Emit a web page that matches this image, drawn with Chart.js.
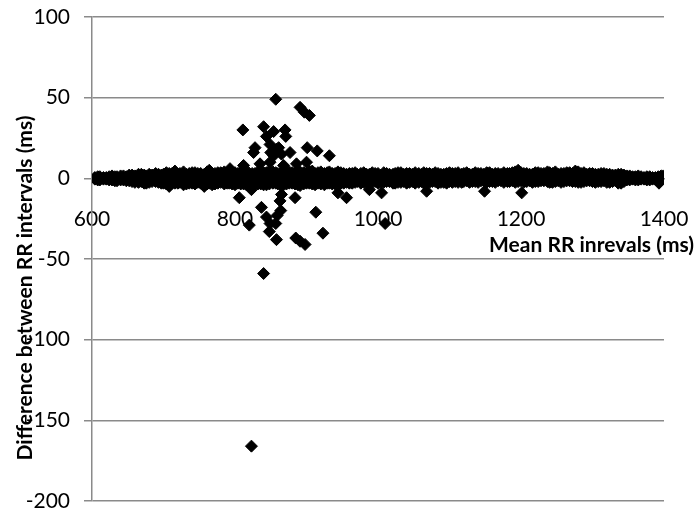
<!DOCTYPE html>
<html>
<head>
<meta charset="utf-8">
<script src="https://cdn.jsdelivr.net/npm/chart.js@4.4.0/dist/chart.umd.min.js"></script>
<style>
  html, body { margin: 0; padding: 0; background: #fff; }
  #wrap { width: 699px; height: 514px; }
</style>
</head>
<body>
<div id="wrap"><canvas id="rr-chart"></canvas></div>
<script>
// axis text
const xTitle = "Mean RR inrevals (ms)";
const yTitle = "Difference between RR intervals (ms)";
const xTicks = [600, 800, 1000, 1200, 1400];
const yTicks = [-200, -150, -100, -50, 0, 50, 100];

// dense band of beats around zero: x, upper edge, middle, lower edge (ms)
const bandX = [604, 611, 620, 628, 635, 644, 652, 660, 669, 676, 684, 693, 700, 708, 716, 723, 732, 740, 748, 757, 764, 772, 780, 789, 796,
  804, 812, 819, 828, 836, 844, 853, 860, 868, 876, 884, 891, 900, 908, 916, 925, 932, 940, 948, 956, 964, 971, 980, 988, 996,
  1004, 1012, 1021, 1028, 1036, 1044, 1052, 1061, 1068, 1076, 1084, 1092, 1100, 1108, 1117, 1124, 1132, 1140, 1148, 1156, 1164,
  1172, 1181, 1188, 1196, 1204, 1212, 1220, 1228, 1237, 1244, 1252, 1260, 1268, 1276, 1284, 1292, 1300, 1308, 1316, 1324, 1332,
  1340, 1348, 1356, 1364, 1372, 1380, 1388, 1396];
const bandHigh = [0.5, 1, 0.5, 1.5, 1, 1.5,
  2, 1.5, 2.5, 1.5, 2, 2.5,
  2.5, 3, 4.5, 3, 2.5, 3.5, 3, 2.5, 5, 3, 3.5, 3, 3.5,
  3, 4, 3.5, 3, 4.5, 3.5, 4, 3, 5, 4, 3.5, 4, 3, 4.5, 3.5, 3, 4, 3, 3.5,
  2.5, 3, 2.5, 3.5, 2.5, 3, 2, 3, 2.5, 3.5, 2.5, 3, 3.5, 2.5, 3, 2.5, 3, 2.5, 3.5,
  3, 2.5, 3.5, 2.5, 3, 2.5, 3.5, 3, 2.5, 3, 3.5, 5, 3, 2.5, 3.5, 3, 4, 3, 2.5, 3, 3.5, 4.5, 3, 2.5, 3,
  2.5, 3, 2.5, 2, 2.5, 1.5, 1, 1.5, 0.5, 1, 0.5, 1.5];
const bandMid = [0, 0, 0, 0, 0, 0,
  0.5, -0.5, 0.5, -0.5, 0, 0.5,
  0, -0.5, 1, 0, 0.5, -0.5, 0, 0.5, -0.5, 0, 1, 0, -0.5,
  0.5, 0, -0.5, 1, 0, 0.5, -0.5, 0, 1, 0, 0.5, -0.5, 0, 1, 0, 0.5, -0.5, 0, 0.5,
  0, 0.5, 0, 1, 0, 0.5, -0.5, 0.5, 0, 1, 0, 0.5, 0, 0.5, 1, 0, 0.5, 0, 0.5,
  0.5, 0, 1, 0, 0.5, 0, 1, 0.5, 0, 0.5, 1, 0.5, 0, 0.5, 1, 0, 0.5, 0, 1, 0.5, 0, 0.5, 1, 0, 0.5,
  0, 0.5, 0, 0.5, 0, 0, 0, 0.5, 0, 0, 0, 0];
const bandLow = [-0.5, -1, -0.5, -1, -1.5, -1,
  -1.5, -2.5, -2, -3, -2, -2.5,
  -3, -5, -3, -2.5, -3.5, -3, -2.5, -5, -3, -3.5, -2.5, -3, -3.5,
  -3, -3.5, -4, -3, -3.5, -4, -3, -3.5, -4, -3, -3.5, -4.5, -3, -3.5, -3, -4, -3, -3.5, -3,
  -2.5, -3, -2, -2.5, -3, -2, -2.5, -2, -3, -2.5, -2, -2.5, -3, -2, -2.5, -2, -3, -2.5, -2,
  -2, -2.5, -1.5, -2, -2.5, -1.5, -2, -2.5, -1.5, -2, -1.5, -2, -2.5, -1.5, -2, -1.5, -2, -2.5, -1.5, -2, -1.5, -2, -2.5, -1.5, -2,
  -2, -1.5, -2.5, -1.5, -3, -1, -0.5, -1, -0.5, -1, -0.5, 0];

// more beats of the band, falling between the ones above
const bandX2 = [608, 616, 624, 632, 640, 648, 656, 665, 673, 680, 689, 697, 704, 712, 720, 728, 736, 744, 752, 761, 768, 776, 785, 792, 800,
  808, 816, 824, 832, 840, 848, 857, 864, 872, 880, 888, 896, 904, 912, 920, 929, 936, 944, 952, 960, 968, 976, 984, 992, 1000,
  1008, 1016, 1024, 1032, 1040, 1048, 1057, 1064, 1072, 1080, 1088, 1096, 1104, 1112, 1120, 1128, 1136, 1144, 1152, 1160, 1168,
  1176, 1184, 1192, 1200, 1208, 1216, 1224, 1232, 1240, 1248, 1256, 1264, 1272, 1280, 1288, 1296, 1304, 1312, 1320, 1328, 1336,
  1344, 1352, 1360, 1368, 1376, 1384, 1392];
const bandUpper2 = [1, 0.5, 1, 1, 1.5, 1,
  2, 2.5, 2, 2.5, 3, 2,
  3.5, 3, 2.5, 4, 3, 3.5, 3, 4, 3, 3.5, 4, 3, 3.5,
  4, 3.5, 3, 4, 3.5, 4.5, 3.5, 3, 4, 3.5, 4, 3.5, 4.5, 3, 4, 3.5, 3, 4, 3,
  3, 3.5, 3, 2.5, 3.5, 3, 3.5, 2.5, 3, 3.5, 3, 2.5, 3, 3.5, 3, 3.5, 2.5, 3, 3,
  3.5, 3, 2.5, 3.5, 3, 3.5, 2.5, 3, 3.5, 3, 4, 3.5, 3, 2.5, 3.5, 3, 3.5, 4, 3, 3.5, 3, 4, 3.5, 3, 2.5,
  3, 2.5, 2, 2.5, 2, 1.5, 1, 1, 1, 0.5, 1];
const bandLower2 = [-1, -0.5, -1, -1.5, -1, -1.5,
  -2, -2.5, -3, -2.5, -2, -3,
  -3.5, -3, -3, -4, -3, -3.5, -3, -3.5, -4, -3, -3.5, -3, -4,
  -3.5, -4, -3, -3.5, -4, -3.5, -3, -4, -3.5, -3, -4, -3.5, -3, -4, -3.5, -3, -3.5, -4, -3,
  -3, -2.5, -3, -2, -2.5, -3, -2.5, -2, -3, -2.5, -3, -2, -2.5, -3, -2.5, -2, -2.5, -3, -2.5,
  -2.5, -2, -2.5, -2, -1.5, -2.5, -2, -1.5, -2.5, -2, -2.5, -1.5, -2, -2.5, -2, -1.5, -2.5, -2, -2.5, -1.5, -2, -2.5, -2, -1.5, -2.5,
  -2, -2.5, -2, -3, -2, -1, -1, -0.5, -1, -0.5, -1];

// scattered outlying beats
const outlierX = [857, 891, 897, 904, 811, 840, 854, 870, 871, 844, 828, 826, 849, 858, 865, 877, 854, 901, 915, 932,
  886, 835, 812, 868, 849, 793, 850, 861, 900,
  823, 806, 837, 865, 863, 884, 864, 859, 820, 844, 849, 857, 848, 858, 885, 891, 898, 913, 923, 840, 823,
  944, 956, 988, 1005, 1010, 1068, 1149, 1201, 1393, 1399];
const outlierY = [49, 44, 41, 39, 30, 32, 29, 30, 26, 26, 19, 16, 21, 18, 15, 16, 14, 19, 17, 14,
  9, 9, 8, 8, 10, 6, 16, 19, 10,
  -7, -12, -18, -10, -14, -12, -20, -23, -29, -24, -28, -28, -33, -38, -37, -39, -41, -21, -34, -59, -166,
  -9, -12, -7, -9, -28, -8, -8, -9, -3, 1.5];

document.addEventListener("DOMContentLoaded", function () {
    const ctx = document.getElementById("rr-chart").getContext("2d");
    const gridGrey = "#8a8a8a";

    const points = [];
    bandX.forEach((x, i) => {
        points.push({ x: x, y: bandHigh[i] }, { x: x, y: bandMid[i] }, { x: x, y: bandLow[i] });
    });
    bandX2.forEach((x, i) => {
        points.push({ x: x, y: bandUpper2[i] }, { x: x, y: bandLower2[i] });
    });
    outlierX.forEach((x, i) => points.push({ x: x, y: outlierY[i] }));

    // titles drawn by hand, Excel places them off-centre
    const axisTitles = {
        id: "axisTitles",
        afterDraw(chart) {
            const c = chart.ctx;
            const area = chart.chartArea;
            c.save();
            c.fillStyle = "#000";
            c.font = "bold 21px Lato";
            c.textAlign = "right";
            c.textBaseline = "middle";
            c.fillText(xTitle, area.right + 30, chart.scales.y.getPixelForValue(0) + 67);
            c.font = "bold 21px Lato";
            c.translate(25, (area.top + area.bottom) / 2 + 29);
            c.rotate(-Math.PI / 2);
            c.textAlign = "center";
            c.fillText(yTitle, 0, 0);
            c.restore();
        },
    };

    const tickFont = { family: "Lato", size: 21 };

    new Chart(ctx, {
        type: "scatter",
        data: {
            datasets: [
                {
                    data: points,
                    pointStyle: "rectRot",
                    pointRadius: 6,
                    pointBorderWidth: 1,
                    backgroundColor: "#000",
                    borderColor: "#000",
                },
            ],
        },
        options: {
            responsive: true,
            maintainAspectRatio: false,
            animation: false,
            layout: { padding: { top: 17, right: 35, bottom: 13, left: 0 } },
            plugins: { legend: { display: false }, tooltip: { enabled: false } },
            scales: {
                x: {
                    type: "linear",
                    position: { y: 0 },
                    min: xTicks[0],
                    max: xTicks[xTicks.length - 1],
                    afterBuildTicks: (s) => { s.ticks = xTicks.map((v) => ({ value: v })); },
                    afterFit: (s) => { s.paddingLeft = 0; s.paddingRight = 0; },
                    ticks: { color: "#000", font: tickFont, padding: 28, maxRotation: 0, callback: (v) => String(v) },
                    grid: { display: false, drawTicks: false },
                    border: { display: true, color: gridGrey, width: 1.5 },
                },
                y: {
                    min: yTicks[0],
                    max: yTicks[yTicks.length - 1],
                    afterBuildTicks: (s) => { s.ticks = yTicks.map((v) => ({ value: v })); },
                    afterFit: (s) => { s.width = 92; s.paddingTop = 0; s.paddingBottom = 0; },
                    ticks: { color: "#000", font: tickFont, padding: 14, callback: (v) => String(v) },
                    grid: { color: gridGrey, lineWidth: 1.5, tickLength: 8 },
                    border: { color: gridGrey, width: 1.5 },
                },
            },
        },
        plugins: [axisTitles],
    });
});
</script>
</body>
</html>
